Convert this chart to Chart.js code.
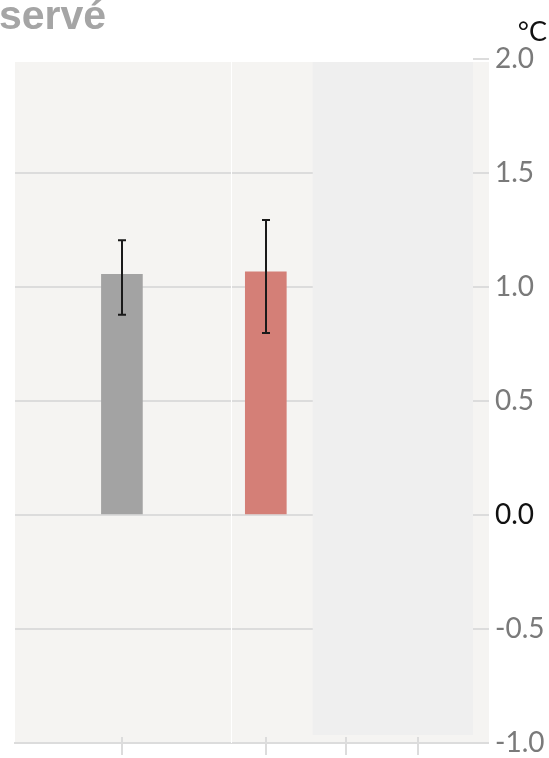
<!DOCTYPE html>
<html>
<head>
<meta charset="utf-8">
<script src="https://cdn.jsdelivr.net/npm/chart.js@4"></script>
<style>
  html, body { margin: 0; padding: 0; background: #fff; }
  #wrap { width: 549px; height: 758px; position: relative; }
</style>
</head>
<body>
<div id="wrap"><canvas id="chartCanvas" width="549" height="758"></canvas></div>
<script>
// Données
const positions = [1, 2];              // position des barres sur l'axe x
const valeurs = [1.056, 1.067];        // anomalie (°C)
const erreurBas = [0.878, 0.798];
const erreurHaut = [1.205, 1.294];
const couleurs = ['#a3a3a3', '#d47f77'];
const ticksX = [1, 2, 2.555, 3.055];
const ticksY = [-1.0, -0.5, 0.0, 0.5, 1.0, 1.5, 2.0];

// Bornes de l'axe x et zone grisée
const xMin = 0.257, xMax = 3.44;
const zoneDebut = 2.326;
const separation = 1.757;

// Fond du panneau, zone grisée, barres d'erreur, textes
const decor = {
    id: 'decor',
    beforeDraw(chart) {
        const c = chart.ctx, x = chart.scales.x, y = chart.scales.y;
        const top = y.getPixelForValue(2) + 3;
        c.save();
        c.fillStyle = '#f5f4f2';
        c.fillRect(x.left, top, x.right - x.left + 16, y.bottom - top);
        c.restore();
    },
    beforeDatasetsDraw(chart) {
        const c = chart.ctx, x = chart.scales.x, y = chart.scales.y;
        const top = y.getPixelForValue(2) + 3;
        c.save();
        c.fillStyle = '#efefef';
        c.fillRect(x.getPixelForValue(zoneDebut), top, x.right - x.getPixelForValue(zoneDebut), y.bottom - 8 - top);
        // ligne blanche de séparation
        c.strokeStyle = '#ffffff';
        c.lineWidth = 1;
        const sx = Math.round(x.getPixelForValue(separation)) + 0.5;
        c.beginPath();
        c.moveTo(sx, top);
        c.lineTo(sx, y.bottom);
        c.stroke();
        // graduations de l'axe x (traversant la ligne)
        c.strokeStyle = '#dcdcdc';
        c.lineWidth = 2;
        ticksX.forEach(v => {
            const px = Math.round(x.getPixelForValue(v));
            c.beginPath();
            c.moveTo(px, y.bottom - 6);
            c.lineTo(px, y.bottom + 12);
            c.stroke();
        });
        c.restore();
    },
    afterDatasetsDraw(chart) {
        const c = chart.ctx, x = chart.scales.x, y = chart.scales.y;
        c.save();
        c.strokeStyle = '#1a1a1a';
        c.lineWidth = 2;
        positions.forEach((p, i) => {
            const px = Math.round(x.getPixelForValue(p));
            const yb = y.getPixelForValue(erreurBas[i]);
            const yh = y.getPixelForValue(erreurHaut[i]);
            c.beginPath();
            c.moveTo(px, yh); c.lineTo(px, yb);
            c.moveTo(px - 4, yh); c.lineTo(px + 4, yh);
            c.moveTo(px - 4, yb); c.lineTo(px + 4, yb);
            c.stroke();
        });
        // unité
        c.fillStyle = '#111';
        c.font = '27px Lato';
        c.textAlign = 'right';
        c.textBaseline = 'middle';
        c.fillText('°C', 547, 32);
        // titre (coupé)
        c.fillStyle = '#a5a5a5';
        c.font = 'bold 41px "Liberation Sans", Arial, sans-serif';
        c.textAlign = 'left';
        c.textBaseline = 'alphabetic';
        c.fillText('servé', -1, 29);
        c.restore();
    }
};

const ctx = document.getElementById('chartCanvas').getContext('2d');
const chart = new Chart(ctx, {
    type: 'bar',
    data: {
        datasets: [{
            data: positions.map((p, i) => ({ x: p, y: valeurs[i] })),
            backgroundColor: couleurs,
            borderWidth: 0,
            barThickness: 41
        }]
    },
    options: {
        responsive: false,
        animation: false,
        layout: { padding: { top: 59, left: 15, right: 0, bottom: 0 } },
        plugins: { legend: { display: false }, tooltip: { enabled: false } },
        scales: {
            x: {
                type: 'linear',
                offset: false,
                min: xMin,
                max: xMax,
                grid: { display: false },
                border: { display: true, color: '#dcdcdc', width: 2 },
                ticks: { display: false },
                afterFit(scale) { scale.height = 15; }
            },
            y: {
                position: 'right',
                min: -1,
                max: 2,
                afterBuildTicks(scale) { scale.ticks = ticksY.map(v => ({ value: v })); },
                grid: {
                    color: c => (c.tick && c.tick.value === 2) ? 'rgba(0,0,0,0)' : '#dcdcdc',
                    tickColor: '#dcdcdc',
                    lineWidth: 2,
                    tickLength: 16
                },
                border: { display: false },
                ticks: {
                    padding: 6,
                    font: { family: 'Lato', size: 28 },
                    color: c => c.tick.value === 0 ? '#111' : '#7a7a7a',
                    callback: v => v.toFixed(1)
                },
                afterFit(scale) {
                    scale.width = 76;
                    scale.paddingTop = 0;
                    scale.paddingBottom = 0;
                }
            }
        }
    },
    plugins: [decor]
});
</script>
</body>
</html>
